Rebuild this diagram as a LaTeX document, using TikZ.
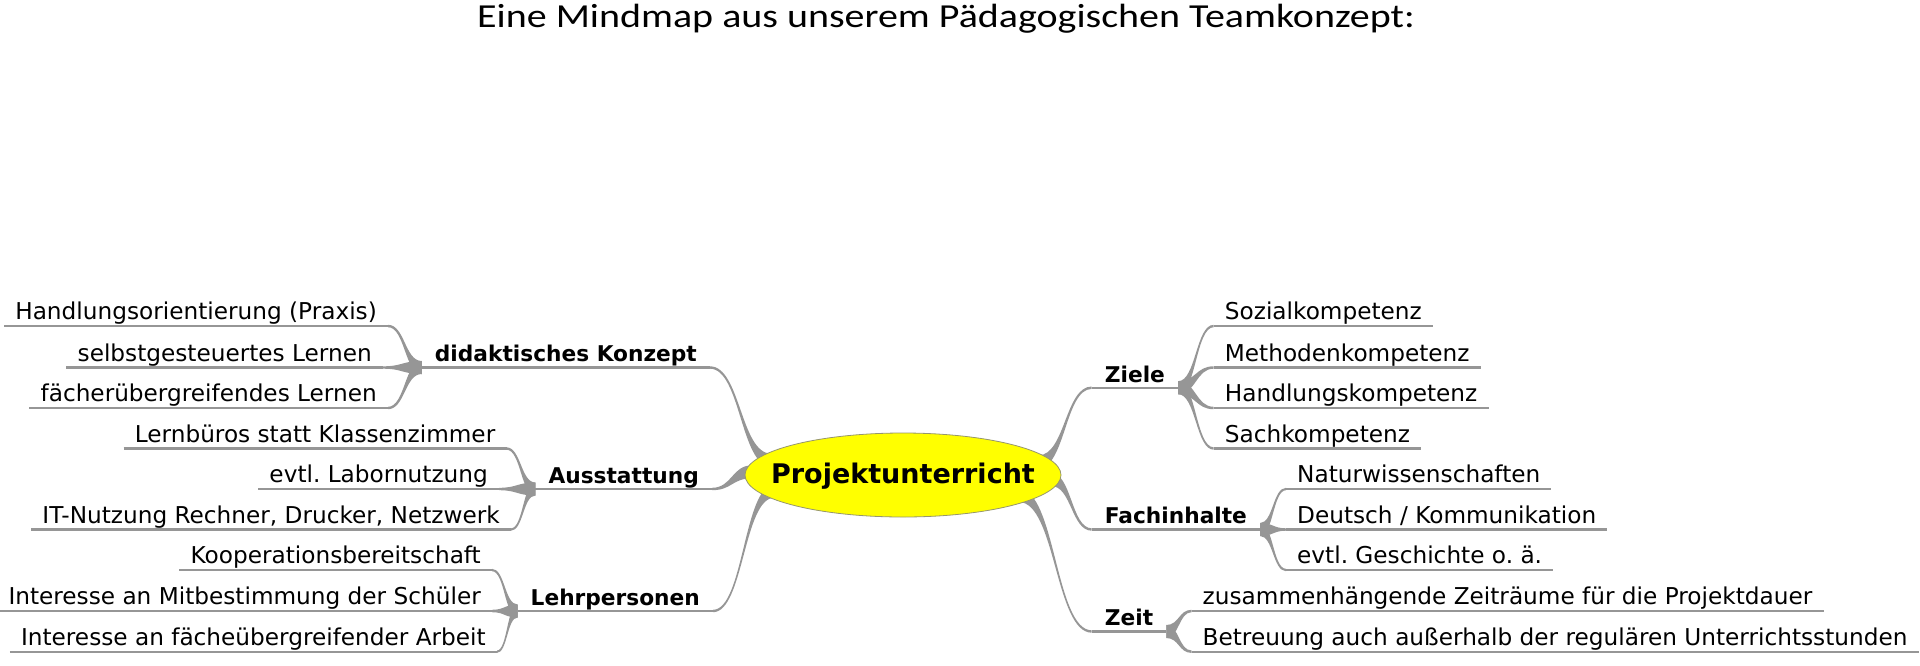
\documentclass[tikz,border=0pt]{standalone}
\usepackage{fontspec}
\setmainfont{DejaVu Sans}
\newfontfamily\titlefont[FakeStretch=1.19]{Carlito}
\usetikzlibrary{shapes.geometric,calc,backgrounds}
\frenchspacing

\definecolor{twiggray}{RGB}{150,150,150}
\definecolor{hubyellow}{RGB}{255,255,0}
\definecolor{hubline}{RGB}{150,150,110}

\tikzset{
  leaf/.style={inner xsep=11pt, inner ysep=0pt, text height=17pt, text depth=6pt,
    font=\fontsize{23.2}{28}\selectfont},
  topic/.style={leaf, inner xsep=13pt, text depth=5.5pt,
    font=\fontsize{21.7}{26}\selectfont\bfseries},
  hub/.style={ellipse, draw=hubline, line width=0.8pt, fill=hubyellow,
    minimum width=316pt, minimum height=84pt, inner sep=0pt,
    text height=0pt, text depth=0pt, font=\fontsize{27}{32}\selectfont\bfseries},
  uline/.style={draw=twiggray, line width=2.4pt},
  twig/.style={fill=twiggray},
}

% tapered connector: thick end at #1, thin end at #2
\newcommand{\twig}[2]{%
  \fill[twig] let \p1=(#1), \p2=(#2), \n1={(\x1+\x2)/2} in
    (\x1,\y1+6.5pt) .. controls (\n1,\y1+6.5pt) and (\n1,\y2+1.2pt) .. (\x2,\y2+1.2pt)
    -- (\x2,\y2-1.2pt) .. controls (\n1,\y2-1.2pt) and (\n1,\y1-6.5pt) .. (\x1,\y1-6.5pt) -- cycle;}

\begin{document}
\begin{tikzpicture}[x=1pt, y=-1pt]
    \useasboundingbox (0,0) rectangle (1920,665);

    % Title
    \node[anchor=base, font=\titlefont\fontsize{33.6}{40}\selectfont] (title) at (946,27.5)
        {Eine Mindmap aus unserem Pädagogischen Teamkonzept:};

    % Center
    \node[hub] (hub) at (903,475) {\raisebox{-8pt}{\makebox[0pt]{Projektunterricht}}};

    % Left branches
    \node[topic, anchor=south east] (didak) at (710,367.5) {didaktisches Konzept};
    \node[leaf, anchor=south east] (didak1) at (388,326) {Handlungsorientierung (Praxis)};
    \node[leaf, anchor=south east] (didak2) at (383,367.5) {selbstgesteuertes Lernen};
    \node[leaf, anchor=south east] (didak3) at (388,408) {fächerübergreifendes Lernen};

    \node[topic, anchor=south east] (ausst) at (712,489) {Ausstattung};
    \node[leaf, anchor=south east] (ausst1) at (506.5,448.5) {Lernbüros statt Klassenzimmer};
    \node[leaf, anchor=south east] (ausst2) at (499,489) {evtl. Labornutzung};
    \node[leaf, anchor=south east] (ausst3) at (511,529.5) {IT-Nutzung Rechner, Drucker, Netzwerk};

    \node[topic, anchor=south east] (lehr) at (713,611) {Lehrpersonen};
    \node[leaf, anchor=south east] (lehr1) at (492,570) {Kooperationsbereitschaft};
    \node[leaf, anchor=south east] (lehr2) at (492,611) {Interesse an Mitbestimmung der Schüler};
    \node[leaf, anchor=south east] (lehr3) at (497,651.7) {Interesse an fächeübergreifender Arbeit};

    % Right branches
    \node[topic, anchor=south west] (ziele) at (1091.7,387.7) {Ziele};
    \node[leaf, anchor=south west] (ziele1) at (1213.7,326) {Sozialkompetenz};
    \node[leaf, anchor=south west] (ziele2) at (1213.7,367.5) {Methodenkompetenz};
    \node[leaf, anchor=south west] (ziele3) at (1213.7,408) {Handlungskompetenz};
    \node[leaf, anchor=south west] (ziele4) at (1213.7,448.5) {Sachkompetenz};

    \node[topic, anchor=south west] (fach) at (1091.7,529.5) {Fachinhalte};
    \node[leaf, anchor=south west] (fach1) at (1286,489) {Naturwissenschaften};
    \node[leaf, anchor=south west] (fach2) at (1286,529.5) {Deutsch / Kommunikation};
    \node[leaf, anchor=south west] (fach3) at (1286,570) {evtl. Geschichte o. ä.};

    \node[topic, anchor=south west] (zeit) at (1091.7,631.5) {Zeit};
    \node[leaf, anchor=south west] (zeit1) at (1191.5,611) {zusammenhängende Zeiträume für die Projektdauer};
    \node[leaf, anchor=south west] (zeit2) at (1191.5,651.7) {Betreuung auch außerhalb der regulären Unterrichtsstunden};

    \begin{scope}[on background layer]
        % Underlines
        \foreach \n in {didak,didak1,didak2,didak3,ausst,ausst1,ausst2,ausst3,
                        lehr,lehr1,lehr2,lehr3,ziele,ziele1,ziele2,ziele3,ziele4,
                        fach,fach1,fach2,fach3,zeit,zeit1,zeit2}
            \draw[uline] (\n.south west) -- (\n.south east);

        % Main branches
        \twig{$(hub.171)!-8pt!(didak.south east)$}{didak.south east}
        \twig{$(hub.180)!-8pt!(ausst.south east)$}{ausst.south east}
        \twig{$(hub.190)!-8pt!(lehr.south east)$}{lehr.south east}
        \twig{$(hub.8)!-8pt!(ziele.south west)$}{ziele.south west}
        \twig{$(hub.356)!-8pt!(fach.south west)$}{fach.south west}
        \twig{$(hub.347)!-8pt!(zeit.south west)$}{zeit.south west}

        % Leaf connectors
        \foreach \i in {1,2,3} {
            \twig{didak.south west}{didak\i.south east}
            \twig{ausst.south west}{ausst\i.south east}
            \twig{lehr.south west}{lehr\i.south east}
            \twig{fach.south east}{fach\i.south west}
        }
        \foreach \i in {1,2,3,4} {
            \twig{ziele.south east}{ziele\i.south west}
        }
        \foreach \i in {1,2} {
            \twig{zeit.south east}{zeit\i.south west}
        }
    \end{scope}
\end{tikzpicture}
\end{document}
